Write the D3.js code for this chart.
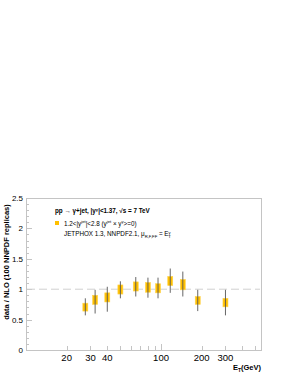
<!DOCTYPE html>
<html>
<head>
<style>
body {
  margin: 0;
  background: white;
  font-family: "Liberation Sans", Arial, sans-serif;
}
svg { display: block; }
text { fill: black; }
</style>
</head>
<body>
<script src="https://cdnjs.cloudflare.com/ajax/libs/d3/7.8.5/d3.min.js"></script>
<script>
// values
var et      = [27.5, 32.5, 40, 50, 65, 80, 95, 117, 145, 187, 300]
var ratio   = [0.71, 0.83, 0.87, 0.99, 1.05, 1.04, 1.02, 1.14, 1.08, 0.82, 0.77]
var sysLo   = [0.64, 0.75, 0.79, 0.92, 0.97, 0.95, 0.94, 1.06, 0.99, 0.75, 0.71]
var sysHi   = [0.77, 0.90, 0.94, 1.07, 1.12, 1.11, 1.09, 1.21, 1.16, 0.88, 0.85]
var errLo   = [0.57, 0.60, 0.63, 0.85, 0.88, 0.86, 0.85, 0.94, 0.88, 0.64, 0.57]
var errHi   = [0.85, 0.99, 1.04, 1.13, 1.20, 1.19, 1.19, 1.34, 1.29, 0.99, 0.99]
var xLabels = [20, 30, 40, 100, 200, 300]
var xTicks  = [20, 30, 40, 50, 60, 70, 80, 90, 100, 200, 300, 400, 500]
var yLabels = [0, 0.5, 1, 1.5, 2, 2.5]

var width = 288, height = 373
var pLeft = 26, pRight = 261, pTop = 198, pBottom = 350

var svg = d3.select("body").append("svg")
  .attr("width", width)
  .attr("height", height)

var x = d3.scaleLog().domain([10, 550]).range([pLeft, pRight])
var y = d3.scaleLinear().domain([0, 2.5]).range([pBottom, pTop])

var frame = "#c4c4c4"

// frame box
svg.append("rect")
  .attr("x", pLeft + 0.5).attr("y", pTop + 0.5)
  .attr("width", pRight - pLeft).attr("height", pBottom - pTop)
  .attr("fill", "none")
  .attr("stroke", frame)
  .attr("stroke-width", 1)

// y ticks, major + minor
var yMinor = d3.range(0, 2.5001, 0.1)
svg.selectAll(".ytick").data(yMinor).enter().append("line")
  .attr("x1", pLeft)
  .attr("x2", function(d) {
    var major = Math.abs(d * 2 - Math.round(d * 2)) < 1e-6
    return pLeft + (major ? 6 : 3)
  })
  .attr("y1", function(d) { return Math.round(y(d)) + 0.5 })
  .attr("y2", function(d) { return Math.round(y(d)) + 0.5 })
  .attr("stroke", frame)

svg.selectAll(".ylab").data(yLabels).enter().append("text")
  .attr("x", pLeft - 3)
  .attr("y", function(d) { return y(d) + 3 })
  .attr("text-anchor", "end")
  .attr("font-size", 8)
  .text(function(d) { return d })

// x ticks
svg.selectAll(".xtick").data(xTicks).enter().append("line")
  .attr("x1", function(d) { return Math.round(x(d)) + 0.5 })
  .attr("x2", function(d) { return Math.round(x(d)) + 0.5 })
  .attr("y1", pBottom)
  .attr("y2", function(d) { return d === 100 ? pBottom - 6 : pBottom - 4 })
  .attr("stroke", frame)

svg.selectAll(".xlab").data(xLabels).enter().append("text")
  .attr("x", function(d) { return x(d) })
  .attr("y", pBottom + 11)
  .attr("text-anchor", "middle")
  .attr("font-size", 9.5)
  .text(function(d) { return d })

// axis titles
var xt = svg.append("text")
  .attr("x", pRight)
  .attr("y", 370)
  .attr("text-anchor", "end")
  .attr("font-size", 7.5)
  .attr("font-weight", "bold")
xt.append("tspan").text("E")
xt.append("tspan").attr("font-size", 5).attr("dy", 2).text("T")
xt.append("tspan").attr("dy", -2).text("(GeV)")

svg.append("text")
  .attr("transform", "translate(9 " + ((pTop + pBottom) / 2 - 12) + ") rotate(-90)")
  .attr("text-anchor", "middle")
  .attr("font-size", 7.5)
  .attr("font-weight", "bold")
  .text("data / NLO (100 NNPDF replicas)")

// dashed reference line at 1
svg.append("line")
  .attr("x1", pLeft + 1).attr("x2", pRight - 1)
  .attr("y1", y(1)).attr("y2", y(1))
  .attr("stroke", "#d0d0d0")
  .attr("stroke-width", 1)
  .attr("stroke-dasharray", "8 4")

// points
var pts = et.map(function(d, i) {
  return { et: d, r: ratio[i], sl: sysLo[i], sh: sysHi[i], el: errLo[i], eh: errHi[i] }
})

var g = svg.selectAll(".pt").data(pts).enter().append("g")

g.append("rect")
  .attr("x", function(d) { return x(d.et) - 2.5 })
  .attr("width", 5)
  .attr("y", function(d) { return y(d.sh) })
  .attr("height", function(d) { return y(d.sl) - y(d.sh) })
  .attr("fill", "#ffc000")
  .attr("stroke", "#ffd34d")
  .attr("stroke-width", 0.6)

g.append("line")
  .attr("x1", function(d) { return x(d.et) })
  .attr("x2", function(d) { return x(d.et) })
  .attr("y1", function(d) { return y(d.eh) })
  .attr("y2", function(d) { return y(d.el) })
  .attr("stroke", "#555")
  .attr("stroke-width", 0.9)

// legend / labels
var t1 = svg.append("text")
  .attr("x", 55).attr("y", 213)
  .attr("font-size", 6.3)
  .attr("font-weight", "bold")
t1.append("tspan").text("pp \u2192 \u03b3+jet, |y")
t1.append("tspan").attr("font-size", 4.2).attr("dy", -2.5).text("\u03b3")
t1.append("tspan").attr("dy", 2.5).text("|<1.37, \u221As = 7 TeV")

svg.append("rect")
  .attr("x", 55).attr("y", 221)
  .attr("width", 4).attr("height", 4)
  .attr("fill", "#ffc000")

var t2 = svg.append("text")
  .attr("x", 64).attr("y", 225.5)
  .attr("font-size", 6.3)
t2.append("tspan").text("1.2<|y")
t2.append("tspan").attr("font-size", 4.2).attr("dy", -2.5).text("jet")
t2.append("tspan").attr("dy", 2.5).text("|<2.8 (y")
t2.append("tspan").attr("font-size", 4.2).attr("dy", -2.5).text("jet")
t2.append("tspan").attr("dy", 2.5).text(" \u00d7 y")
t2.append("tspan").attr("font-size", 4.2).attr("dy", -2.5).text("\u03b3")
t2.append("tspan").attr("dy", 2.5).text(">=0)")

var t3 = svg.append("text")
  .attr("x", 64).attr("y", 236)
  .attr("font-size", 6.3)
t3.append("tspan").text("JETPHOX 1.3, NNPDF2.1, \u03bc")
t3.append("tspan").attr("font-size", 4.2).attr("dy", 2).text("R,F,FF")
t3.append("tspan").attr("dy", -2).text(" = E")
t3.append("tspan").attr("font-size", 4.2).attr("dy", -2.5).text("\u03b3")
t3.append("tspan").attr("font-size", 4.2).attr("dx", -2.5).attr("dy", 4.5).text("T")
</script>
</body>
</html>
